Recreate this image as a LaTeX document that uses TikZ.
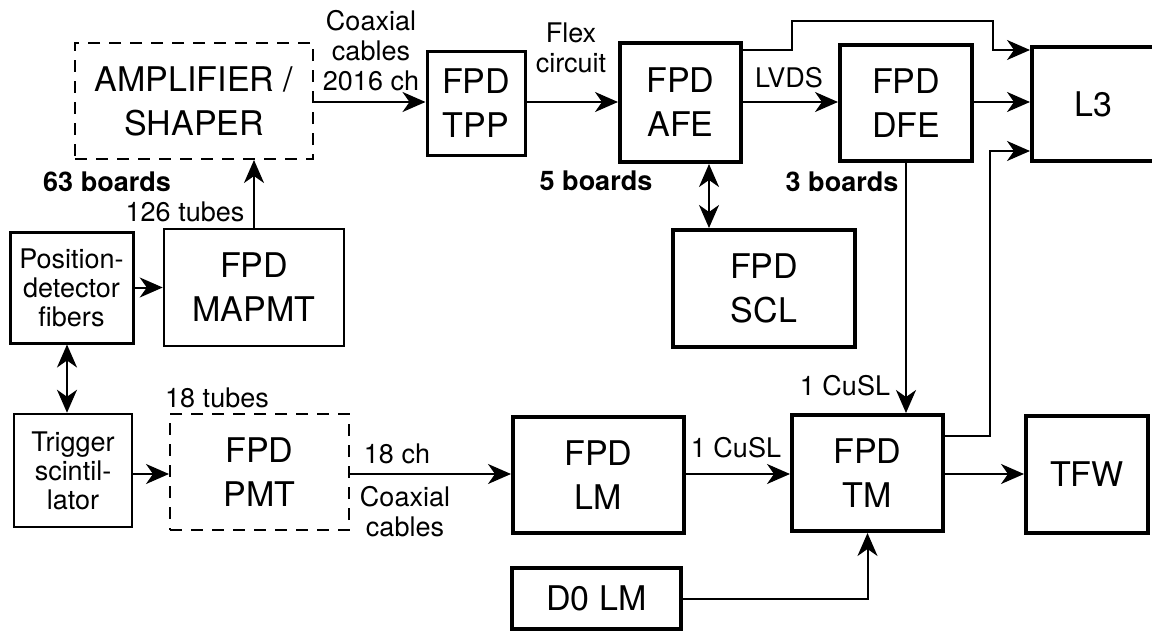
\documentclass[tikz,border=0pt]{standalone}
\usepackage{fontspec}
\setmainfont{TeX Gyre Heros}
\usetikzlibrary{arrows.meta}

\begin{document}
\begin{tikzpicture}[x=1pt,y=-1pt,
  blk/.style={draw,line width=4pt,align=center,inner sep=0pt,
    font=\fontsize{34}{44}\selectfont},
  thinblk/.style={blk,line width=2.5pt},
  dashblk/.style={blk,line width=2pt,dash pattern=on 12pt off 9pt},
  lbl/.style={inner sep=0pt,align=center,font=\fontsize{27}{30}\selectfont},
  blbl/.style={lbl,font=\fontsize{27}{30}\selectfont\bfseries},
  arr/.style={line width=2pt,-{Stealth[length=23pt,width=20pt,inset=7pt]}},
  dblarr/.style={line width=2pt,
    {Stealth[length=23pt,width=20pt,inset=7pt]}-{Stealth[length=23pt,width=20pt,inset=7pt]}}
]
  \useasboundingbox (0,0) rectangle (1152,632);
  % Top row
  \node[dashblk,minimum width=238pt,minimum height=116pt] (amp) at (194,101) {AMPLIFIER /\\SHAPER};
  \node[blk,line width=3pt,minimum width=98pt,minimum height=104pt] (tpp) at (476,103) {FPD\\TPP};
  \node[blk,minimum width=121pt,minimum height=119pt] (afe) at (680.5,102.5) {FPD\\AFE};
  \node[blk,minimum width=132pt,minimum height=116pt] (dfe) at (906,103) {FPD\\DFE};
  \node[blk,minimum width=122pt,minimum height=114pt] (l3) at (1093,104) {L3};
  % Middle row
  \node[thinblk,line width=3pt,minimum width=123pt,minimum height=111pt,
    font=\fontsize{27}{29}\selectfont] (pos) at (71.5,287.5) {Position-\\detector\\fibers};
  \node[thinblk,minimum width=180pt,minimum height=117pt] (mapmt) at (254,287.5) {FPD\\MAPMT};
  \node[blk,minimum width=182pt,minimum height=117pt] (scl) at (764,288.5) {FPD\\SCL};
  % Bottom rows
  \node[thinblk,minimum width=118pt,minimum height=113pt,
    font=\fontsize{27}{29}\selectfont] (trig) at (73,470.5) {Trigger\\scintil-\\lator};
  \node[dashblk,minimum width=179pt,minimum height=116pt] (pmt) at (259.5,472) {FPD\\PMT};
  \node[blk,minimum width=171pt,minimum height=116pt] (lm) at (598.5,475) {FPD\\LM};
  \node[blk,minimum width=151pt,minimum height=116pt] (tm) at (867.5,473) {FPD\\TM};
  \node[blk,minimum width=122pt,minimum height=117pt] (tfw) at (1087,474.5) {TFW};
  \node[blk,minimum width=169pt,minimum height=61pt] (d0) at (596.5,598.5) {D0 LM};

  % Bend points and rows
  \coordinate (toprow) at (0,102);
  \coordinate (lowrow) at (0,474);
  \coordinate (byp1) at (792,21);
  \coordinate (byp2) at (993,50);
  \coordinate (tmout) at (0,436);
  \coordinate (byp3) at (990,151);
  \coordinate (sclx) at (709,0);
  \coordinate (posx) at (67,0);

  \draw[arr] (amp.east |- toprow) -- (tpp.west |- toprow);
  \draw[arr] (tpp.east |- toprow) -- (afe.west |- toprow);
  \draw[arr] (afe.east |- toprow) -- (dfe.west |- toprow);
  \draw[arr] (dfe.east |- toprow) -- (l3.west |- toprow);
  \draw[arr] (afe.east |- byp2) -| (byp1) -| (byp2) -- (l3.west |- byp2);
  \draw[arr] (tm.east |- tmout) -| (byp3) -- (l3.west |- byp3);
  \draw[arr] (dfe.south) -- (dfe.south |- tm.north);
  \draw[dblarr] (afe.south -| sclx) -- (scl.north -| sclx);
  \draw[arr] (mapmt.north) -- (mapmt.north |- amp.south);
  \draw[arr] (pos.east) -- (mapmt.west);
  \draw[dblarr] (pos.south -| posx) -- (trig.north -| posx);
  \draw[arr] (trig.east |- lowrow) -- (pmt.west |- lowrow);
  \draw[arr] (pmt.east |- lowrow) -- (lm.west |- lowrow);
  \draw[arr] (lm.east |- lowrow) -- (tm.west |- lowrow);
  \draw[arr] (tm.east |- lowrow) -- (tfw.west |- lowrow);
  \draw[arr] (d0.east) -| (tm.south);

  % Labels
  \node[lbl] (coax1) at (371,51) {Coaxial\\cables\\2016 ch};
  \node[lbl] (flex) at (571,48) {Flex\\circuit};
  \node[lbl] (lvds) at (789,78) {LVDS};
  \node[blbl] (ampboards) at (107,182) {63 boards};
  \node[blbl] (afeboards) at (596,181) {5 boards};
  \node[blbl] (dfeboards) at (842,182) {3 boards};
  \node[lbl] (mapmttubes) at (185,212) {126 tubes};
  \node[lbl] (pmttubes) at (217,398) {18 tubes};
  \node[lbl] (pmtch) at (397,454) {18 ch};
  \node[lbl] (coax2) at (405,512) {Coaxial\\cables};
  \node[lbl] (dfecusl) at (845,386) {1 CuSL};
  \node[lbl] (lmcusl) at (736,448) {1 CuSL};
\end{tikzpicture}
\end{document}
